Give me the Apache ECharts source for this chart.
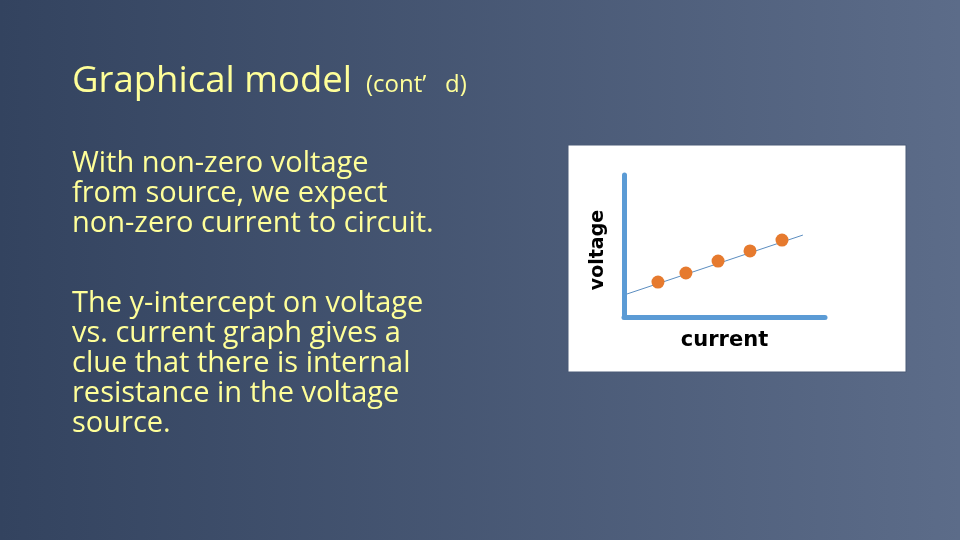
<!DOCTYPE html>
<html>
<head>
<meta charset="utf-8">
<style>html,body{margin:0;padding:0;background:#3a4a66;}#c{width:960px;height:540px;}</style>
<script src="https://cdn.jsdelivr.net/npm/echarts@6/dist/echarts.min.js"></script>
</head>
<body>
<div id="c"></div>
<script>
// Data (arbitrary units on a 0-10 scale)
const currentValues = [1.69, 3.08, 4.68, 6.27, 7.86];
const voltageValues = [2.46, 3.10, 3.94, 4.65, 5.42];
const fitCurrent = [0.15, 8.9];
const fitVoltage = [1.62, 5.77];
const titleMain = 'Graphical model';
const titleSub = '(cont’   d)';
const para1 = ['With non-zero voltage', 'from source, we expect', 'non-zero current to circuit.'];
const para2 = ['The y-intercept on voltage', 'vs. current graph gives a', 'clue that there is internal', 'resistance in the voltage', 'source.'];

const chart = echarts.init(document.getElementById('c'), null, {renderer: 'canvas'});
const font = '"Open Sans", "Noto Sans", sans-serif';
const yellow = '#FFFF99';
const graphics = [
  {type: 'rect', shape: {x: 568, y: 145, width: 338, height: 227}, style: {fill: '#ffffff', stroke: '#4a5a76', lineWidth: 1}, z: -10},
  {type: 'text', left: 72, top: 63, style: {text: titleMain, fill: yellow, font: '36.5px ' + font}},
  {type: 'text', left: 366, top: 73, style: {text: titleSub, fill: yellow, font: '24px ' + font}}
];
para1.forEach((t, i) => graphics.push({type: 'text', left: 72, top: 149 + i * 30, style: {text: t, fill: yellow, font: '29px ' + font}}));
para2.forEach((t, i) => graphics.push({type: 'text', left: 72, top: 289 + i * 30, style: {text: t, fill: yellow, font: '29px ' + font}}));

chart.setOption({
  backgroundColor: {type: 'linear', x: 0, y: 0, x2: 1, y2: 0, colorStops: [{offset: 0, color: '#33435F'}, {offset: 1, color: '#5C6C89'}]},
  animation: false,
  graphic: graphics,
  grid: {left: 624, top: 175, width: 201, height: 142, containLabel: false},
  xAxis: {
    type: 'value', min: 0, max: 10,
    name: 'current', nameLocation: 'middle', nameGap: 13,
    nameTextStyle: {color: '#000', fontSize: 21, fontWeight: 'bold', fontFamily: 'Verdana, "DejaVu Sans", sans-serif', verticalAlign: 'top'},
    axisLine: {show: true, onZero: false, lineStyle: {color: '#5B9BD5', width: 5}},
    axisTick: {show: false}, axisLabel: {show: false}, splitLine: {show: false}
  },
  yAxis: {
    type: 'value', min: 0, max: 10,
    name: 'voltage', nameLocation: 'middle', nameGap: 16, nameRotate: 90,
    nameTextStyle: {color: '#000', fontSize: 19, fontWeight: 'bold', fontFamily: 'Verdana, "DejaVu Sans", sans-serif', padding: [0, 8, 0, 0]},
    axisLine: {show: true, onZero: false, lineStyle: {color: '#5B9BD5', width: 5}},
    axisTick: {show: false}, axisLabel: {show: false}, splitLine: {show: false}
  },
  series: [
    {type: 'line', data: fitCurrent.map((x, i) => [x, fitVoltage[i]]), symbol: 'none', lineStyle: {color: '#5B8DC0', width: 1}, z: 2},
    {type: 'scatter', data: currentValues.map((x, i) => [x, voltageValues[i]]), symbolSize: 13, itemStyle: {color: '#E67A2E', opacity: 1}, z: 3}
  ]
});
</script>
</body>
</html>
